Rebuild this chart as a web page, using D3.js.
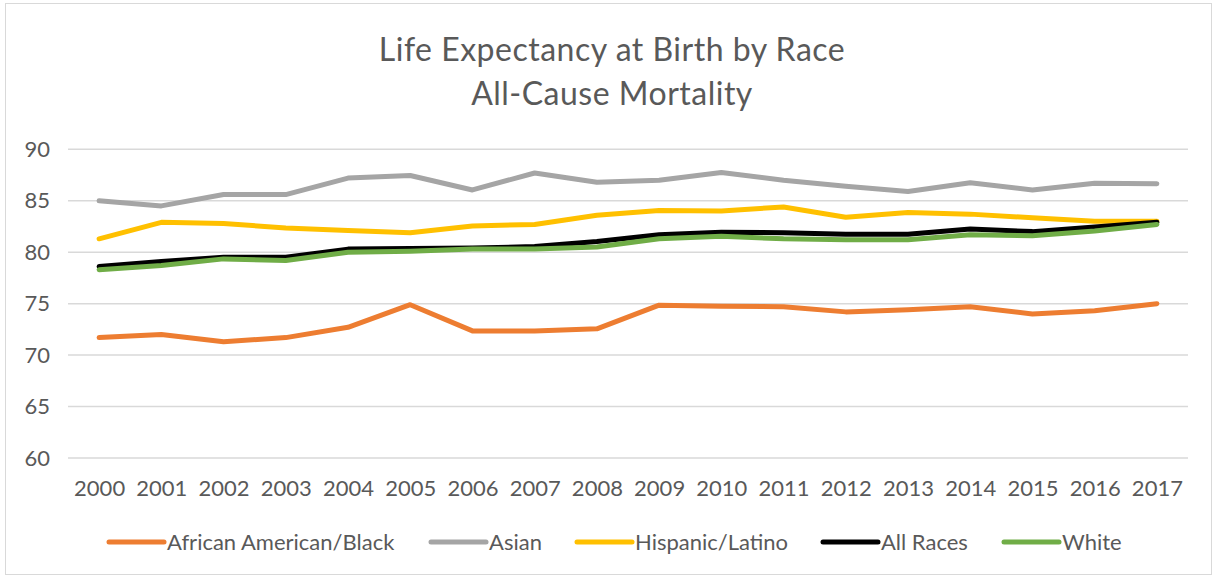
<!DOCTYPE html>
<html>
<head>
<meta charset="utf-8">
<script src="https://cdn.jsdelivr.net/npm/d3@7.9.0/dist/d3.min.js"></script>
<style>
  body { margin: 0; background: #fff; }
  svg text { font-family: Lato, "Liberation Sans", sans-serif; fill: #595959; }
</style>
</head>
<body>
<svg id="chart" width="1214" height="578"></svg>
<script>
// data
const years = ["2000","2001","2002","2003","2004","2005","2006","2007","2008",
  "2009","2010","2011","2012","2013","2014","2015","2016","2017"];
const black = [71.7, 72.0, 71.3, 71.7, 72.7, 74.9, 72.35, 72.35, 72.55, 74.85, 74.75, 74.7, 74.2, 74.4, 74.7, 74.0, 74.3, 75.0];
const asian = [85.0, 84.5, 85.6, 85.6, 87.2, 87.45, 86.05, 87.7, 86.8, 87.0, 87.75, 87.0, 86.4, 85.9, 86.75, 86.05, 86.7, 86.65];
const hispanic = [81.3, 82.9, 82.8, 82.35, 82.1, 81.9, 82.55, 82.7, 83.6, 84.05, 84.0, 84.4, 83.4, 83.85, 83.7, 83.35, 83.0, 83.0];
const allRaces = [78.6, 79.1, 79.5, 79.5, 80.3, 80.35, 80.4, 80.55, 81.05, 81.7, 81.95, 81.9, 81.75, 81.75, 82.25, 82.0, 82.45, 82.9];
const white = [78.3, 78.7, 79.35, 79.2, 80.0, 80.1, 80.3, 80.3, 80.5, 81.3, 81.55, 81.3, 81.2, 81.2, 81.7, 81.6, 82.05, 82.7];
const yTicks = [60, 65, 70, 75, 80, 85, 90];

const series = [
  { name: "African American/Black", values: black, color: "#ED7D31" },
  { name: "Asian", values: asian, color: "#A5A5A5" },
  { name: "Hispanic/Latino", values: hispanic, color: "#FFC000" },
  { name: "All Races", values: allRaces, color: "#000000" },
  { name: "White", values: white, color: "#70AD47" }
];

const svg = d3.select("#chart");

// outer border
svg.append("rect")
  .attr("x", 5.5).attr("y", 3.5)
  .attr("width", 1206).attr("height", 571)
  .attr("fill", "none").attr("stroke", "#d9d9d9");

// title
const title = svg.append("text")
  .attr("x", 612).attr("text-anchor", "middle")
  .style("font-size", "32px")
  .style("letter-spacing", "0.5px");
title.append("tspan").attr("x", 612).attr("y", 61).text("Life Expectancy at Birth by Race");
title.append("tspan").attr("x", 612).attr("y", 105).text("All-Cause Mortality");

const x = d3.scalePoint().domain(years).range([68, 1188]).padding(0.5);
const y = d3.scaleLinear().domain([60, 90]).range([458, 149.3]);

// gridlines
svg.append("g")
  .selectAll("line")
  .data(yTicks)
  .join("line")
  .attr("x1", 68).attr("x2", 1188)
  .attr("y1", d => y(d)).attr("y2", d => y(d))
  .attr("stroke", "#d9d9d9").attr("stroke-width", 1.5);

// y axis labels
const yAxis = svg.append("g")
  .attr("transform", "translate(50,0)")
  .call(d3.axisLeft(y).tickValues(yTicks).tickSize(0).tickPadding(0));
yAxis.select(".domain").remove();
yAxis.selectAll("text").style("font-size", "22px").attr("fill", "#595959");

// x axis labels
const xAxis = svg.append("g")
  .attr("transform", "translate(0,480)")
  .call(d3.axisBottom(x).tickSize(0).tickPadding(0));
xAxis.select(".domain").remove();
xAxis.selectAll("text").style("font-size", "22px").attr("fill", "#595959");

// lines
const line = d3.line()
  .x((d, i) => x(years[i]))
  .y(d => y(d));

svg.append("g")
  .selectAll("path")
  .data(series)
  .join("path")
  .attr("d", d => line(d.values))
  .attr("fill", "none")
  .attr("stroke", d => d.color)
  .attr("stroke-width", 5)
  .attr("stroke-linejoin", "round")
  .attr("stroke-linecap", "round");

// legend
const legendX = [109, 431, 577, 823, 1004];
const legend = svg.append("g")
  .selectAll("g")
  .data(series)
  .join("g")
  .attr("transform", (d, i) => `translate(${legendX[i]},542)`);
legend.append("line")
  .attr("x1", 0).attr("x2", 55)
  .attr("stroke", d => d.color)
  .attr("stroke-width", 5)
  .attr("stroke-linecap", "round");
legend.append("text")
  .attr("x", 58).attr("dy", "0.35em")
  .style("font-size", "22px")
  .text(d => d.name);
</script>
</body>
</html>
